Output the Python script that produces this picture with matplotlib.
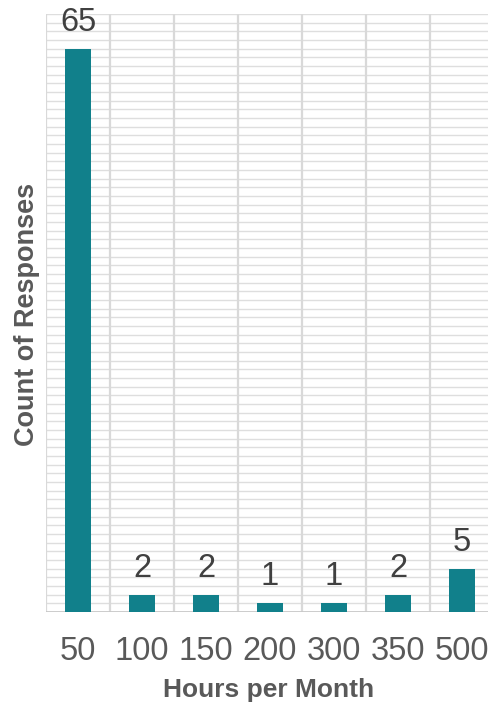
import matplotlib.pyplot as plt
import numpy as np

plt.rcParams['font.family'] = ['Liberation Sans', 'DejaVu Sans']

# Responses per monthly-hours bucket
hours = ['50', '100', '150', '200', '300', '350', '500']
counts = [65, 2, 2, 1, 1, 2, 5]

W, H = 488, 705
fig = plt.figure(figsize=(W / 100, H / 100), dpi=100)

# plot area: left edge at 46px, baseline at 612px, top at 14px; right side runs off the image
left, base, top = 46, 612, 14
ax = fig.add_axes([left / W, (H - base) / H, (7 * 64) / W, (base - top) / H])

x = np.arange(len(hours))
ax.bar(x, counts, width=0.4, color='#11808B', zorder=3)

for xi, c in zip(x, counts):
    ax.annotate(str(c), (xi, c), xytext=(0, 13), textcoords='offset points',
                ha='center', va='baseline', fontsize=23.5, color='#404040')

ax.set_xlim(-0.5, len(hours) - 0.5)
ax.set_ylim(0, 69)

# horizontal grid every single response
for yv in range(1, 70):
    ax.axhline(yv, color='#dedede', lw=1.0, zorder=1)
# vertical lines between categories
for xv in np.arange(-0.5, len(hours), 1.0):
    ax.axvline(xv, color='#d9d9d9', lw=1.6, zorder=1)
ax.axhline(0, color='#c8c8c8', lw=2.0, zorder=2)

for s in ax.spines.values():
    s.set_visible(False)
ax.set_yticks([])
ax.set_xticks(x)
ax.set_xticklabels(hours, fontsize=23.5, color='#595959')
ax.tick_params(axis='x', length=0, pad=17)

fig.text(269 / W, 1 - 690 / H, 'Hours per Month', ha='center', va='center',
         fontsize=19, fontweight='bold', color='#595959')
fig.text(27 / W, 1 - 314 / H, 'Count of Responses', ha='center', va='center',
         rotation=90, fontsize=19.5, fontweight='bold', color='#595959')

fig.savefig('out.png', dpi=100)
